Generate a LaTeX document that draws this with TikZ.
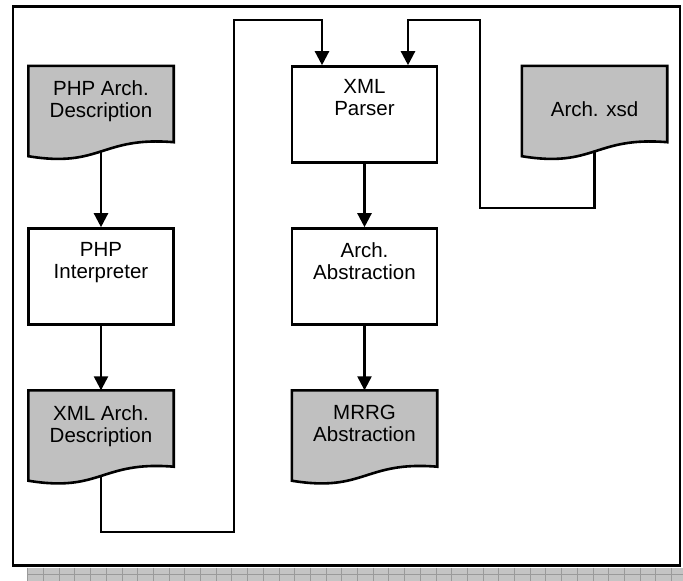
\documentclass[tikz,border=0pt]{standalone}
\usepackage{fontspec}
\setmainfont{Liberation Sans}
\usetikzlibrary{arrows.meta,calc}

\definecolor{docgray}{HTML}{C0C0C0}
\definecolor{stripgray}{HTML}{C4C4C4}
\definecolor{stripline}{HTML}{9A9A9A}

\tikzset{
  procbox/.style={rectangle, draw, line width=2.6pt, fill=white,
    minimum width=145pt, minimum height=96pt, inner sep=0pt},
  docnode/.style={rectangle, minimum width=145pt, minimum height=90pt, inner sep=0pt},
  docline/.style={draw, line width=2.6pt, fill=docgray, line join=miter},
  lbl/.style={font=\fontsize{20.5}{22}\selectfont, align=center, inner sep=0pt, anchor=north},
  flow/.style={line width=2.4pt, -{Triangle[width=14pt,length=14pt]}},
}

% document symbol: flat top, wavy bottom edge
\newcommand\docoutline[1]{%
  \path[docline] (#1.north west) -- (#1.north east)
    -- ($(#1.south east)+(0,-14)$)
    .. controls ($(#1.south)+(0,-20)$) and ($(#1.south)+(0,12)$) .. (#1.south west)
    -- cycle;}

\begin{document}
\begin{tikzpicture}[x=1pt, y=-1pt]
  \useasboundingbox (0,0) rectangle (683,581);

  % outer frame
  \draw[line width=2.8pt] (13,6.5) rectangle (680,565.5);

  % ruler strip along the bottom
  \fill[stripgray] (27.7,567.5) rectangle (683,581);
  \foreach \k in {0,...,41}
    \draw[stripline, line width=0.8pt] (27.7+15.7*\k,567.5) -- (27.7+15.7*\k,581);
  \draw[stripline, line width=0.8pt] (27.7,574) -- (683,574);

  % left column
  \node[docnode] (phpdoc) at (101,111) {};
  \docoutline{phpdoc}
  \node[lbl] (phpdoc-t) at ([yshift=-15pt]phpdoc.north) {PHP Arch.\\Description};

  \node[procbox] (interp) at (101,276.5) {};
  \node[lbl] (interp-t) at ([yshift=-15pt]interp.north) {PHP\\Interpreter};

  \node[docnode] (xmldoc) at (101,435.5) {};
  \docoutline{xmldoc}
  \node[lbl] (xmldoc-t) at ([yshift=-15pt]xmldoc.north) {XML Arch.\\Description};

  % middle column
  \node[procbox] (parser) at (364.5,114.5) {};
  \node[lbl] (parser-t) at ([yshift=-14pt]parser.north) {XML\\Parser};

  \node[procbox] (abstr) at (364.5,276.5) {};
  \node[lbl] (abstr-t) at ([yshift=-15pt]abstr.north) {Arch.\\Abstraction};

  \node[docnode] (mrrg) at (364.5,435.5) {};
  \docoutline{mrrg}
  \node[lbl] (mrrg-t) at ([yshift=-15pt]mrrg.north) {MRRG\\Abstraction};

  % right column
  \node[docnode] (xsd) at (594.5,111) {};
  \docoutline{xsd}
  \node[lbl] (xsd-t) at ([yshift=-36pt]xsd.north) {Arch. xsd};

  % straight flows
  \draw[flow] ([yshift=5pt]phpdoc.south) -- (interp);
  \draw[flow] (interp) -- (xmldoc);
  \draw[flow] (parser) -- (abstr);
  \draw[flow] (abstr) -- (mrrg);

  % routed flows into the parser
  \coordinate (a1) at (101,532);
  \coordinate (a2) at (234,532);
  \coordinate (a3) at (234,20);
  \coordinate (a4) at (322,20);
  \draw[flow] ([yshift=5pt]xmldoc.south) -- (a1) -- (a2) -- (a3) -- (a4) -- (a4 |- parser.north);

  \coordinate (b1) at (594.5,208);
  \coordinate (b2) at (480,208);
  \coordinate (b3) at (480,20);
  \coordinate (b4) at (408,20);
  \draw[flow] ([yshift=5pt]xsd.south) -- (b1) -- (b2) -- (b3) -- (b4) -- (b4 |- parser.north);
\end{tikzpicture}
\end{document}
